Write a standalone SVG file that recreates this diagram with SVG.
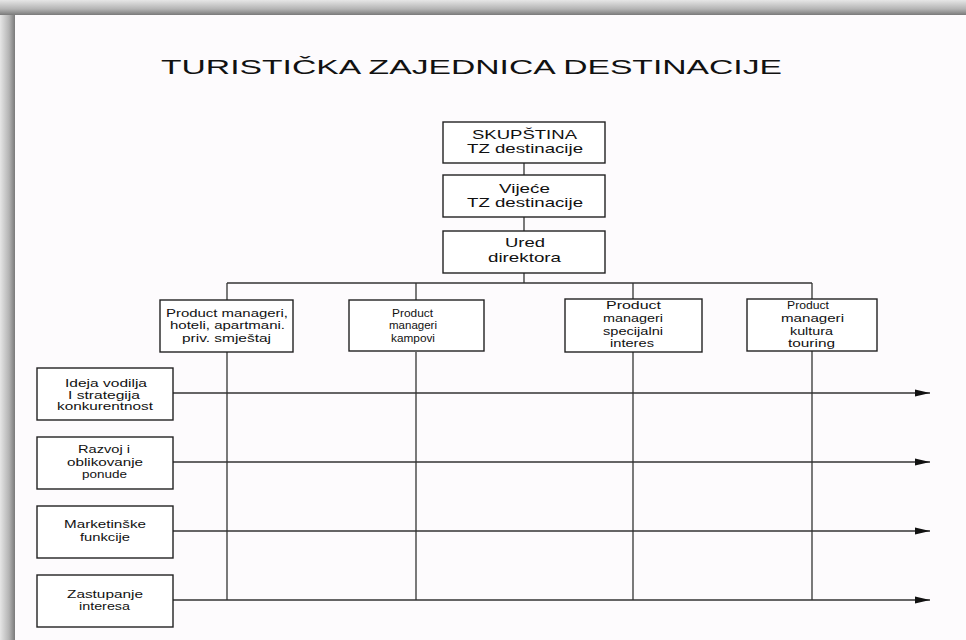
<svg xmlns="http://www.w3.org/2000/svg" width="966" height="640" viewBox="0 0 966 640">
<defs>
<linearGradient id="gl" x1="0" y1="0" x2="1" y2="0">
<stop offset="0" stop-color="#e6e6e6"/><stop offset="0.6" stop-color="#b4b4b4"/><stop offset="1" stop-color="#7a7a7a"/>
</linearGradient>
<linearGradient id="gt" x1="0" y1="0" x2="0" y2="1">
<stop offset="0" stop-color="#e6e6e6"/><stop offset="0.6" stop-color="#b4b4b4"/><stop offset="1" stop-color="#7a7a7a"/>
</linearGradient>
<marker id="arr" markerWidth="16" markerHeight="10" refX="15" refY="4.5" orient="auto" markerUnits="userSpaceOnUse">
<path d="M0,1 L15,4.5 L0,8 Z" fill="#111"/>
</marker>
<style>
.box{fill:#ffffff;stroke:#222;stroke-width:1.4}
.t{font-family:"Liberation Sans",Arial,sans-serif;fill:#111;text-anchor:start}
.ln{stroke:#333;stroke-width:1.3;fill:none}
.s12{font-size:13px}
.s10{font-size:10.5px}
.s11{font-size:11px}
</style>
</defs>
<rect x="0" y="0" width="966" height="640" fill="#fdfbfd"/>
<rect x="0" y="0" width="15" height="640" fill="url(#gl)"/>
<rect x="0" y="0" width="966" height="15" fill="url(#gt)"/>
<text class="t" x="161" y="74" font-size="21" textLength="621" lengthAdjust="spacingAndGlyphs">TURISTIČKA ZAJEDNICA DESTINACIJE</text>

<g id="connectors">
<line class="ln" x1="524" y1="163" x2="524" y2="175"/>
<line class="ln" x1="524" y1="217" x2="524" y2="231"/>
<line class="ln" x1="524" y1="273" x2="524" y2="283"/>
<line class="ln" x1="227" y1="283" x2="812" y2="283"/>
<line class="ln" x1="227" y1="283" x2="227" y2="300"/>
<line class="ln" x1="416" y1="283" x2="416" y2="300"/>
<line class="ln" x1="633" y1="283" x2="633" y2="299"/>
<line class="ln" x1="812" y1="283" x2="812" y2="299"/>
<line class="ln" x1="227" y1="352" x2="227" y2="600"/>
<line class="ln" x1="416" y1="352" x2="416" y2="600"/>
<line class="ln" x1="633" y1="352" x2="633" y2="600"/>
<line class="ln" x1="812" y1="351" x2="812" y2="600"/>
<line class="ln" x1="173" y1="393" x2="930" y2="393" marker-end="url(#arr)"/>
<line class="ln" x1="173" y1="462" x2="930" y2="462" marker-end="url(#arr)"/>
<line class="ln" x1="173" y1="531" x2="930" y2="531" marker-end="url(#arr)"/>
<line class="ln" x1="173" y1="600" x2="930" y2="600" marker-end="url(#arr)"/>
</g>

<g id="skupstina">
<rect class="box" x="443" y="122" width="162" height="41"/>
<text class="t s12" x="472" y="139" textLength="105" lengthAdjust="spacingAndGlyphs">SKUPŠTINA</text>
<text class="t s12" x="467" y="153" textLength="116" lengthAdjust="spacingAndGlyphs">TZ destinacije</text>
</g>
<g id="vijece">
<rect class="box" x="443" y="175" width="162" height="42"/>
<text class="t s12" x="499" y="193" textLength="51" lengthAdjust="spacingAndGlyphs">Vijeće</text>
<text class="t s12" x="467" y="207" textLength="116" lengthAdjust="spacingAndGlyphs">TZ destinacije</text>
</g>
<g id="ured">
<rect class="box" x="443" y="231" width="162" height="42"/>
<text class="t s12" x="505" y="247" textLength="40" lengthAdjust="spacingAndGlyphs">Ured</text>
<text class="t s12" x="488" y="262" textLength="73" lengthAdjust="spacingAndGlyphs">direktora</text>
</g>

<g id="pm-hoteli">
<rect class="box" x="160" y="300" width="133" height="52"/>
<text class="t s10" x="166" y="317" textLength="122" lengthAdjust="spacingAndGlyphs">Product manageri,</text>
<text class="t s10" x="170" y="329" textLength="115" lengthAdjust="spacingAndGlyphs">hoteli, apartmani.</text>
<text class="t s10" x="182" y="342" textLength="89" lengthAdjust="spacingAndGlyphs">priv. smještaj</text>
</g>
<g id="pm-kampovi">
<rect class="box" x="349" y="300" width="135" height="51"/>
<text class="t s10" x="392" y="317" textLength="41" lengthAdjust="spacingAndGlyphs">Product</text>
<text class="t s10" x="389" y="329" textLength="48" lengthAdjust="spacingAndGlyphs">manageri</text>
<text class="t s10" x="391" y="342" textLength="44" lengthAdjust="spacingAndGlyphs">kampovi</text>
</g>
<g id="pm-specijalni">
<rect class="box" x="565" y="299" width="137" height="53"/>
<text class="t s11" x="606" y="309" textLength="55" lengthAdjust="spacingAndGlyphs">Product</text>
<text class="t s11" x="603" y="322" textLength="60" lengthAdjust="spacingAndGlyphs">manageri</text>
<text class="t s11" x="603" y="335" textLength="60" lengthAdjust="spacingAndGlyphs">specijalni</text>
<text class="t s11" x="610" y="347" textLength="44" lengthAdjust="spacingAndGlyphs">interes</text>
</g>
<g id="pm-kultura">
<rect class="box" x="747" y="299" width="130" height="52"/>
<text class="t s11" x="787" y="309" textLength="42" lengthAdjust="spacingAndGlyphs">Product</text>
<text class="t s11" x="781" y="322" textLength="63" lengthAdjust="spacingAndGlyphs">manageri</text>
<text class="t s11" x="790" y="335" textLength="43" lengthAdjust="spacingAndGlyphs">kultura</text>
<text class="t s11" x="788" y="347" textLength="47" lengthAdjust="spacingAndGlyphs">touring</text>
</g>

<g id="ideja">
<rect class="box" x="37" y="368" width="136" height="52"/>
<text class="t s10" x="65" y="387" textLength="82" lengthAdjust="spacingAndGlyphs">Ideja vodilja</text>
<text class="t s10" x="68" y="399" textLength="72" lengthAdjust="spacingAndGlyphs">I strategija</text>
<text class="t s10" x="57" y="410" textLength="96" lengthAdjust="spacingAndGlyphs">konkurentnost</text>
</g>
<g id="razvoj">
<rect class="box" x="37" y="437" width="136" height="52"/>
<text class="t s10" x="78" y="453" textLength="52" lengthAdjust="spacingAndGlyphs">Razvoj i</text>
<text class="t s10" x="67" y="466" textLength="76" lengthAdjust="spacingAndGlyphs">oblikovanje</text>
<text class="t s10" x="82" y="478" textLength="45" lengthAdjust="spacingAndGlyphs">ponude</text>
</g>
<g id="marketinske">
<rect class="box" x="37" y="506" width="136" height="52"/>
<text class="t s10" x="64" y="528" textLength="82" lengthAdjust="spacingAndGlyphs">Marketinške</text>
<text class="t s10" x="80" y="541" textLength="50" lengthAdjust="spacingAndGlyphs">funkcije</text>
</g>
<g id="zastupanje">
<rect class="box" x="37" y="575" width="136" height="52"/>
<text class="t s10" x="67" y="598" textLength="76" lengthAdjust="spacingAndGlyphs">Zastupanje</text>
<text class="t s10" x="79" y="610" textLength="51" lengthAdjust="spacingAndGlyphs">interesa</text>
</g>
</svg>
